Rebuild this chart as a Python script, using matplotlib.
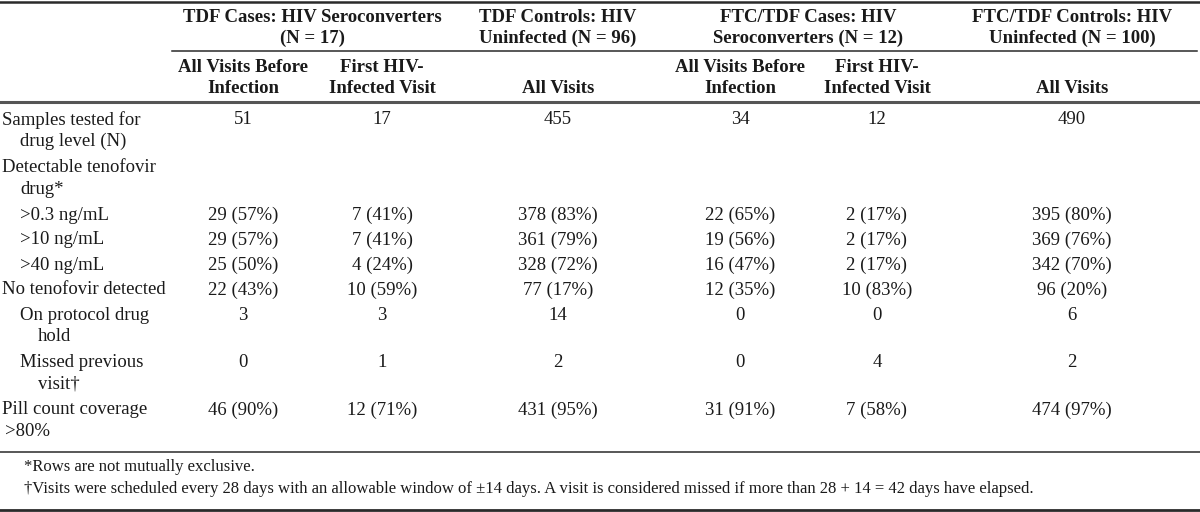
import matplotlib.pyplot as plt

# Column headers
group_titles = ["TDF Cases: HIV Seroconverters\n(N = 17)",
                "TDF Controls: HIV\nUninfected (N = 96)",
                "FTC/TDF Cases: HIV\nSeroconverters (N = 12)",
                "FTC/TDF Controls: HIV\nUninfected (N = 100)"]
sub_titles = ["All Visits Before\nInfection", "First HIV-\nInfected Visit", "All Visits",
              "All Visits Before\nInfection", "First HIV-\nInfected Visit", "All Visits"]

# Row labels
row_labels = ["Samples tested for\ndrug level (N)",
              "Detectable tenofovir\ndrug*",
              ">0.3 ng/mL",
              ">10 ng/mL",
              ">40 ng/mL",
              "No tenofovir detected",
              "On protocol drug\nhold",
              "Missed previous\nvisit†",
              "Pill count coverage\n>80%"]
row_level = [0, 0, 1, 1, 1, 0, 1, 1, 0]

# Table values, one list per column
tdf_cases_before = ["51", "", "29 (57%)", "29 (57%)", "25 (50%)", "22 (43%)", "3", "0", "46 (90%)"]
tdf_cases_first = ["17", "", "7 (41%)", "7 (41%)", "4 (24%)", "10 (59%)", "3", "1", "12 (71%)"]
tdf_controls = ["455", "", "378 (83%)", "361 (79%)", "328 (72%)", "77 (17%)", "14", "2", "431 (95%)"]
ftc_cases_before = ["34", "", "22 (65%)", "19 (56%)", "16 (47%)", "12 (35%)", "0", "0", "31 (91%)"]
ftc_cases_first = ["12", "", "2 (17%)", "2 (17%)", "2 (17%)", "10 (83%)", "0", "4", "7 (58%)"]
ftc_controls = ["490", "", "395 (80%)", "369 (76%)", "342 (70%)", "96 (20%)", "6", "2", "474 (97%)"]

footnotes = ["*Rows are not mutually exclusive.",
             "†Visits were scheduled every 28 days with an allowable window of ±14 days. "
             "A visit is considered missed if more than 28 + 14 = 42 days have elapsed."]

columns = [tdf_cases_before, tdf_cases_first, tdf_controls,
           ftc_cases_before, ftc_cases_first, ftc_controls]

plt.rcParams['font.family'] = ['Liberation Serif', 'DejaVu Serif']
txt = '#1a1a1a'
fs = 13.5

fig = plt.figure(figsize=(12, 5.12), dpi=100)
ax = fig.add_axes([0, 0, 1, 1])
ax.set_xlim(0, 1200)
ax.set_ylim(512, 0)
ax.axis('off')

col_x = [243, 382, 558, 740, 877, 1072]
group_x = [312, 558, 808, 1072]
line_h = 21.5

# header
for gx, t in zip(group_x, group_titles):
    for k, ln in enumerate(t.split("\n")):
        ax.text(gx, 17 + k * 21, ln, ha='center', va='center', fontsize=fs,
                fontweight='bold', color=txt)
for cx, t in zip(col_x, sub_titles):
    lines = t.split("\n")
    if len(lines) == 1:
        lines = [""] + lines
    for k, ln in enumerate(lines):
        ax.text(cx, 67 + k * line_h, ln, ha='center', va='center', fontsize=fs,
                fontweight='bold', color=txt)

# body
y = 120
for i, lab in enumerate(row_labels):
    lines = lab.split("\n")
    base = 2 + 18 * row_level[i]
    for k, ln in enumerate(lines):
        if k == 0:
            xx = base
        elif i == len(row_labels) - 1:
            xx = base + 3
        else:
            xx = base + 18
        ax.text(xx, y + k * line_h, ln, ha='left', va='center', fontsize=fs, color=txt)
    for cx, col in zip(col_x, columns):
        ax.text(cx, y, col[i], ha='center', va='center', fontsize=fs, color=txt)
    y += 25 + (len(lines) - 1) * 22.5

# footnotes
ax.text(24, 467, footnotes[0], ha='left', va='center', fontsize=12, color=txt)
ax.text(24, 489, footnotes[1], ha='left', va='center', fontsize=12, color=txt)

# rules
ax.plot([0, 1200], [2, 2], color='#2a2a2a', lw=1.8)
ax.plot([172, 1197], [51, 51], color='#2a2a2a', lw=1.1)
ax.plot([0, 1200], [102, 102], color='#555555', lw=2.2)
ax.plot([0, 1200], [452, 452], color='#2a2a2a', lw=1.1)
ax.plot([0, 1200], [509.5, 509.5], color='#2a2a2a', lw=2.0)

fig.savefig('out.png', dpi=100)
